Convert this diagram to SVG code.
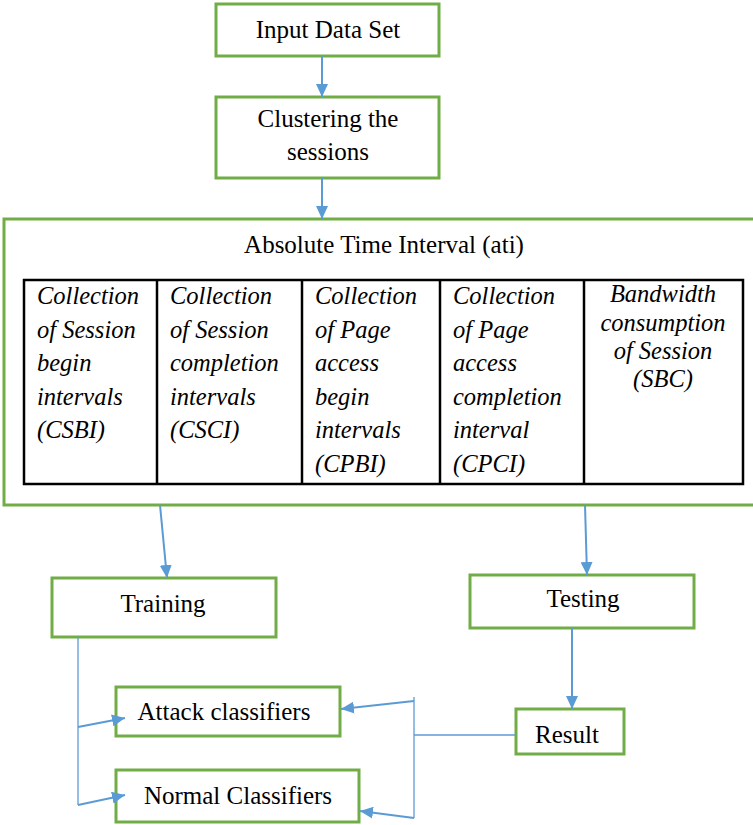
<svg xmlns="http://www.w3.org/2000/svg" width="753" height="825" viewBox="0 0 753 825">
<style>
.box{fill:#fff;stroke:#70AD47;stroke-width:3}
.t{font-family:"Liberation Serif","Times New Roman",serif;font-size:25px;fill:#000}
.c{text-anchor:middle}
.i{font-family:"Liberation Serif","Times New Roman",serif;font-size:24.5px;font-style:italic;fill:#000}
.tb{fill:none;stroke:#000;stroke-width:2.5}
.a{fill:none;stroke:#5B9BD5;stroke-width:2}
.l{fill:none;stroke:#5B9BD5;stroke-width:1.3}
</style>
<defs>
<marker id="ah" markerUnits="userSpaceOnUse" markerWidth="14" markerHeight="12" refX="13" refY="6" orient="auto">
<path d="M0,0 L13,6 L0,12 Z" fill="#5B9BD5"/>
</marker>
</defs>
<g id="input"><rect class="box" x="216" y="4" width="223" height="52"/><text class="t c" x="328" y="38">Input Data Set</text></g>
<g id="clustering"><rect class="box" x="216" y="97" width="223" height="81"/><text class="t c" x="328" y="127">Clustering the</text><text class="t c" x="328" y="160">sessions</text></g>
<g id="ati">
<rect class="box" x="4" y="219" width="760" height="286"/>
<text class="t c" x="384" y="253">Absolute Time Interval (ati)</text>
<rect class="tb" x="24" y="280" width="719" height="204"/>
<line class="tb" x1="157" y1="280" x2="157" y2="484"/>
<line class="tb" x1="302" y1="280" x2="302" y2="484"/>
<line class="tb" x1="440" y1="280" x2="440" y2="484"/>
<line class="tb" x1="584" y1="280" x2="584" y2="484"/>
<text class="i" x="37"><tspan x="37" y="304">Collection</tspan><tspan x="37" y="337.5">of Session</tspan><tspan x="37" y="371">begin</tspan><tspan x="37" y="404.5">intervals</tspan><tspan x="37" y="438">(CSBI)</tspan></text>
<text class="i" x="170"><tspan x="170" y="304">Collection</tspan><tspan x="170" y="337.5">of Session</tspan><tspan x="170" y="371">completion</tspan><tspan x="170" y="404.5">intervals</tspan><tspan x="170" y="438">(CSCI)</tspan></text>
<text class="i" x="315"><tspan x="315" y="304">Collection</tspan><tspan x="315" y="337.5">of Page</tspan><tspan x="315" y="371">access</tspan><tspan x="315" y="404.5">begin</tspan><tspan x="315" y="438">intervals</tspan><tspan x="315" y="471.5">(CPBI)</tspan></text>
<text class="i" x="453"><tspan x="453" y="304">Collection</tspan><tspan x="453" y="337.5">of Page</tspan><tspan x="453" y="371">access</tspan><tspan x="453" y="404.5">completion</tspan><tspan x="453" y="438">interval</tspan><tspan x="453" y="471.5">(CPCI)</tspan></text>
<text class="i c" x="663"><tspan x="663" y="302">Bandwidth</tspan><tspan x="663" y="331">consumption</tspan><tspan x="663" y="359">of Session</tspan><tspan x="663" y="387">(SBC)</tspan></text>
</g>
<g id="training"><rect class="box" x="52" y="578" width="224" height="59"/><text class="t c" x="163" y="612">Training</text></g>
<g id="testing"><rect class="box" x="470" y="575" width="224" height="53"/><text class="t c" x="583" y="607">Testing</text></g>
<g id="result"><rect class="box" x="516" y="709" width="108" height="45"/><text class="t c" x="567" y="743">Result</text></g>
<g id="attack"><rect class="box" x="116" y="687" width="224" height="49"/><text class="t c" x="224" y="720">Attack classifiers</text></g>
<g id="normal"><rect class="box" x="116" y="770" width="243" height="52"/><text class="t c" x="238" y="804">Normal Classifiers</text></g>
<g id="connectors">
<line class="a" x1="322" y1="56" x2="322" y2="97" marker-end="url(#ah)"/>
<line class="a" x1="322" y1="178" x2="322" y2="219" marker-end="url(#ah)"/>
<line class="a" x1="160" y1="505" x2="167" y2="578" marker-end="url(#ah)"/>
<line class="a" x1="585" y1="505" x2="587" y2="575" marker-end="url(#ah)"/>
<line class="a" x1="572" y1="628" x2="572" y2="709" marker-end="url(#ah)"/>
<line class="l" x1="78" y1="637" x2="78" y2="805"/>
<line class="a" x1="78" y1="727" x2="125" y2="718" marker-end="url(#ah)"/>
<line class="a" x1="78" y1="805" x2="125" y2="795" marker-end="url(#ah)"/>
<line class="l" x1="516" y1="735" x2="414" y2="735"/>
<line class="l" x1="414" y1="697" x2="414" y2="818"/>
<line class="a" x1="414" y1="701" x2="341" y2="709" marker-end="url(#ah)"/>
<line class="a" x1="414" y1="818" x2="360" y2="811" marker-end="url(#ah)"/>
</g>
</svg>
